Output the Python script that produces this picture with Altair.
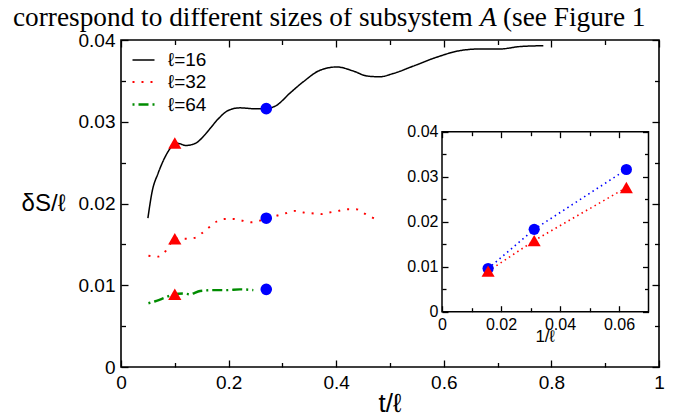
import altair as alt
import pandas as pd

# ---------------- data ----------------
SERIES = ["ℓ=16", "ℓ=32", "ℓ=64"]
SERIES_COLORS = ["#000000", "#ff0000", "#008c00"]
SERIES_DASH = [[1, 0], [2, 7], [2, 4, 10, 4]]
SERIES_WIDTH = [1.5, 2.4, 2.0]

l16_t = [0.050, 0.058, 0.069, 0.082, 0.092, 0.100, 0.110, 0.120, 0.131, 0.142, 0.153,
         0.166, 0.180, 0.200, 0.221, 0.246, 0.269, 0.289, 0.314, 0.339, 0.370, 0.401,
         0.432, 0.457, 0.481, 0.506, 0.543, 0.587, 0.630, 0.667, 0.704, 0.742, 0.785]
l16_v = [0.0182, 0.0215, 0.0237, 0.0257, 0.0268, 0.0274, 0.0273, 0.0271, 0.0272, 0.0275, 0.0282,
         0.0292, 0.0303, 0.0314, 0.0317, 0.0316, 0.0316, 0.0320, 0.0335, 0.0349, 0.0363, 0.0367,
         0.0362, 0.0356, 0.0355, 0.0359, 0.0368, 0.0379, 0.0387, 0.0389, 0.0389, 0.0392, 0.0393]

l32_t = [0.051, 0.068, 0.082, 0.091, 0.0985, 0.121, 0.1375, 0.151, 0.164, 0.178, 0.192,
         0.209, 0.2255, 0.243, 0.258, 0.2695, 0.289, 0.306, 0.3216, 0.339, 0.3545, 0.371,
         0.387, 0.404, 0.4206, 0.437, 0.452, 0.4665, 0.481]
l32_v = [0.0136, 0.0135, 0.0141, 0.0150, 0.0157, 0.0157, 0.0158, 0.0164, 0.0171, 0.0178, 0.0181,
         0.0181, 0.0179, 0.0177, 0.0179, 0.0181, 0.0185, 0.0188, 0.0191, 0.0189, 0.0188, 0.0187,
         0.0189, 0.0191, 0.0193, 0.0193, 0.0188, 0.0183, 0.0179]

l64_t = [0.051, 0.066, 0.082, 0.0985, 0.116, 0.128, 0.147, 0.172, 0.196, 0.221, 0.246]
l64_v = [0.0078, 0.0081, 0.0085, 0.0089, 0.0090, 0.0089, 0.0093, 0.0094, 0.0094, 0.0095, 0.0094]

tri_t = [0.1, 0.1, 0.1]
tri_v = [0.0274, 0.0157, 0.0089]
circ_t = [0.27, 0.27, 0.27]
circ_v = [0.0316, 0.0182, 0.0095]

inv_ell = [0.0625, 0.03125, 0.015625]
inset_circ_v = [0.0316, 0.0183, 0.0096]
inset_tri_v = [0.0276, 0.0158, 0.0090]

main_x_domain = [0, 1]
main_y_domain = [0, 0.04]
inset_x_domain = [0, 0.07]
inset_y_domain = [0, 0.04]
main_x_major = [0, 0.2, 0.4, 0.6, 0.8, 1]
main_x_minor = [0.1, 0.3, 0.5, 0.7, 0.9]
main_y_major = [0, 0.01, 0.02, 0.03, 0.04]
main_y_minor = [0.005, 0.015, 0.025, 0.035]
inset_x_major = [0, 0.02, 0.04, 0.06]
inset_x_minor = [0.01, 0.03, 0.05]
inset_y_major = [0, 0.01, 0.02, 0.03, 0.04]
inset_y_minor = [0.005, 0.015, 0.025, 0.035]

caption_parts = ["correspond to different sizes of subsystem", "A", "(see Figure 1"]
x_title = "t/ℓ"
y_title = "δS/ℓ"
inset_x_title = "1/ℓ"

# ---------------- layout ----------------
W, H = 538, 327
INSET_LEFT, INSET_RIGHT, INSET_TOP, INSET_BOTTOM = 321, 527.5, 91.7, 271.7
SANS = "Liberation Sans"
SERIF = "Liberation Serif"
TICK_COLOR = "black"

MX = alt.Scale(domain=main_x_domain, nice=False, zero=False)
MY = alt.Scale(domain=main_y_domain, nice=False, zero=False)
IX = alt.Scale(domain=inset_x_domain, range=[INSET_LEFT, INSET_RIGHT], nice=False, zero=False)
IY = alt.Scale(domain=inset_y_domain, range=[INSET_BOTTOM, INSET_TOP], nice=False, zero=False)


def axis(orient, values, size, gap=0, **extra):
    d = dict(orient=orient, values=values, tickSize=size, offset=-(gap + size),
             domain=False, grid=False, ticks=True, tickColor=TICK_COLOR, tickWidth=1.3,
             tickOpacity=1, labels=False, title=None, zindex=1, labelFlush=False,
             labelOverlap=False, labelColor="black", labelFont=SANS, titleColor="black",
             titleFont=SANS, titleFontWeight="normal", format="~g")
    d.update(extra)
    return alt.Axis(**d)


def axis_layer(xs, ys, xdom, ydom, xaxis, yaxis):
    df = pd.DataFrame({"x": [xdom[0]], "y": [ydom[0]]})
    return alt.Chart(df).mark_point(opacity=0).encode(
        x=alt.X("x:Q", scale=xs, axis=xaxis),
        y=alt.Y("y:Q", scale=ys, axis=yaxis),
    )


def text_layer(txt, x, y, size, font=SANS, style="normal", align="center", baseline="middle"):
    return alt.Chart(pd.DataFrame({"a": [0]})).mark_text(
        text=txt, font=font, fontSize=size, fontStyle=style, align=align,
        baseline=baseline, color="black").encode(x=alt.value(x), y=alt.value(y))


rows = []
for name, ts, vs in zip(SERIES, [l16_t, l32_t, l64_t], [l16_v, l32_v, l64_v]):
    for t, v in zip(ts, vs):
        rows.append({"t": t, "v": v, "series": name})
lines_df = pd.DataFrame(rows)

leg = alt.Legend(orient="none", legendX=10, legendY=8, title=None, symbolType="stroke",
                 symbolSize=484, labelFontSize=19, labelFont=SANS, labelColor="black",
                 labelOffset=12, rowPadding=-4, padding=0)

main_lines = alt.Chart(lines_df).mark_line(interpolate="monotone").encode(
    x=alt.X("t:Q", scale=MX, axis=axis("bottom", main_x_major, 7, labels=True,
            labelFontSize=19, labelPadding=6)),
    y=alt.Y("v:Q", scale=MY, axis=axis("left", main_y_major, 7, labels=True,
            labelFontSize=19, labelPadding=6, title=y_title, titleFontSize=24,
            titleAngle=0, titleX=-85, titleY=163.5, titleAlign="center",
            titleBaseline="middle")),
    color=alt.Color("series:N", scale=alt.Scale(domain=SERIES, range=SERIES_COLORS), legend=leg),
    strokeDash=alt.StrokeDash("series:N", scale=alt.Scale(domain=SERIES, range=SERIES_DASH), legend=leg),
    strokeWidth=alt.StrokeWidth("series:N", scale=alt.Scale(domain=SERIES, range=SERIES_WIDTH), legend=leg),
)

main_circ = alt.Chart(pd.DataFrame({"t": circ_t, "v": circ_v})).mark_point(
    shape="circle", filled=True, size=135, color="#0000ff", opacity=1).encode(
    x=alt.X("t:Q", scale=MX, axis=None), y=alt.Y("v:Q", scale=MY, axis=None))
main_tri = alt.Chart(pd.DataFrame({"t": tri_t, "v": tri_v})).mark_point(
    shape="triangle-up", filled=True, size=175, color="#ff0000", opacity=1).encode(
    x=alt.X("t:Q", scale=MX, axis=None), y=alt.Y("v:Q", scale=MY, axis=None))

main_minor = axis_layer(MX, MY, main_x_domain, main_y_domain,
                        axis("bottom", main_x_minor, 4.5), axis("left", main_y_minor, 4.5))
main_mirror = axis_layer(MX, MY, main_x_domain, main_y_domain,
                         axis("top", main_x_major, 7), axis("right", main_y_major, 7))
main_mirror_minor = axis_layer(MX, MY, main_x_domain, main_y_domain,
                               axis("top", main_x_minor, 4.5), axis("right", main_y_minor, 4.5))

# inset
frame_df = pd.DataFrame({"x": [inset_x_domain[0]], "x2": [inset_x_domain[1]],
                         "y": [inset_y_domain[0]], "y2": [inset_y_domain[1]]})
gb = H - INSET_BOTTOM
gr = W - INSET_RIGHT
inset_frame = alt.Chart(frame_df).mark_rect(fill="white", stroke="black", strokeWidth=1.5).encode(
    x=alt.X("x:Q", scale=IX, axis=axis("bottom", inset_x_major, 6, gap=gb, labels=True,
            labelFontSize=16, labelPadding=5)),
    x2="x2:Q",
    y=alt.Y("y:Q", scale=IY, axis=axis("left", inset_y_major, 6, gap=INSET_LEFT, labels=True,
            labelFontSize=16, labelPadding=4)),
    y2="y2:Q",
)
inset_minor = axis_layer(IX, IY, inset_x_domain, inset_y_domain,
                         axis("bottom", inset_x_minor, 4, gap=gb),
                         axis("left", inset_y_minor, 4, gap=INSET_LEFT))
inset_mirror = axis_layer(IX, IY, inset_x_domain, inset_y_domain,
                          axis("top", inset_x_major, 6, gap=INSET_TOP),
                          axis("right", inset_y_major, 6, gap=gr))
inset_mirror_minor = axis_layer(IX, IY, inset_x_domain, inset_y_domain,
                                axis("top", inset_x_minor, 4, gap=INSET_TOP),
                                axis("right", inset_y_minor, 4, gap=gr))

inset_c_df = pd.DataFrame({"x": inv_ell, "v": inset_circ_v})
inset_t_df = pd.DataFrame({"x": inv_ell, "v": inset_tri_v})
inset_c_line = alt.Chart(inset_c_df).mark_line(color="#0000ff", strokeDash=[1.5, 3.5], strokeWidth=1.6).encode(
    x=alt.X("x:Q", scale=IX, axis=None), y=alt.Y("v:Q", scale=IY, axis=None))
inset_t_line = alt.Chart(inset_t_df).mark_line(color="#ff0000", strokeDash=[1.5, 3.5], strokeWidth=1.6).encode(
    x=alt.X("x:Q", scale=IX, axis=None), y=alt.Y("v:Q", scale=IY, axis=None))
inset_c_pts = alt.Chart(inset_c_df).mark_point(shape="circle", filled=True, size=125,
                                               color="#0000ff", opacity=1).encode(
    x=alt.X("x:Q", scale=IX, axis=None), y=alt.Y("v:Q", scale=IY, axis=None))
inset_t_pts = alt.Chart(inset_t_df).mark_point(shape="triangle-up", filled=True, size=170,
                                               color="#ff0000", opacity=1).encode(
    x=alt.X("x:Q", scale=IX, axis=None), y=alt.Y("v:Q", scale=IY, axis=None))

# axis titles drawn as text
x_title_txt = text_layer(x_title, W / 2, H + 37, 26)
inset_title_txt = text_layer(inset_x_title, (INSET_LEFT + INSET_RIGHT) / 2, INSET_BOTTOM + 25, 17)

# caption text clipped from the page above
CAP_SIZE = 27.3
cap1 = text_layer(caption_parts[0], -108, -14, CAP_SIZE, font=SERIF, align="left", baseline="alphabetic")
cap2 = text_layer(caption_parts[1], 359, -14, CAP_SIZE, font=SERIF, style="italic", align="left",
                  baseline="alphabetic")
cap3 = text_layer(caption_parts[2], 382, -14, CAP_SIZE, font=SERIF, align="left", baseline="alphabetic")

chart = alt.layer(
    main_lines, main_circ, main_tri, main_minor, main_mirror, main_mirror_minor,
    inset_frame, inset_minor, inset_mirror, inset_mirror_minor,
    inset_c_line, inset_t_line, inset_c_pts, inset_t_pts,
    x_title_txt, inset_title_txt, cap1, cap2, cap3,
).resolve_scale(x="independent", y="independent").properties(
    width=W, height=H,
    autosize=alt.AutoSizeParams(type="none"),
    padding={"left": 113, "top": 32, "right": 13, "bottom": 50},
    background="white",
).configure_view(stroke="black", strokeWidth=1.6)

chart.save("out.html", embed_options={"renderer": "svg", "actions": False})
